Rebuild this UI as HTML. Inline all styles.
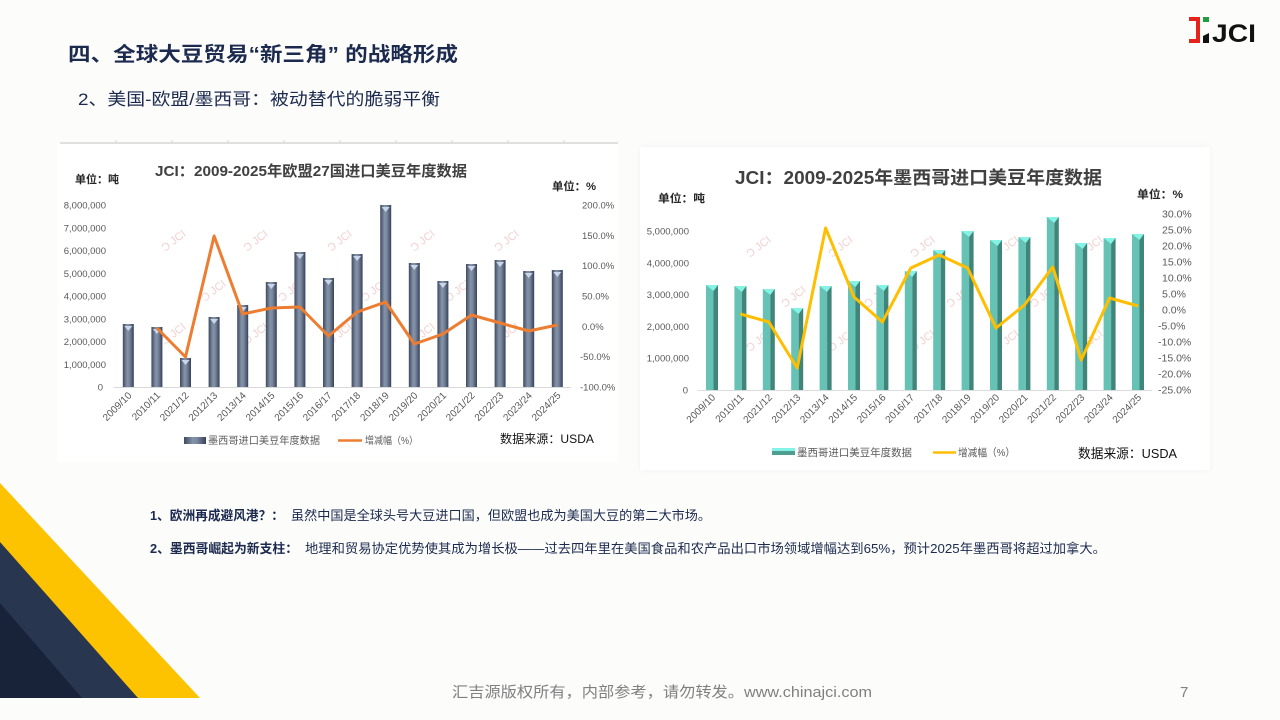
<!DOCTYPE html>
<html><head><meta charset="utf-8"><style>
html,body{margin:0;padding:0;background:#FCFCFB;}
svg{display:block;}
text{font-family:"Liberation Sans","Noto Sans CJK SC",sans-serif;}
</style></head><body>
<svg width="1280" height="720" viewBox="0 0 1280 720" xmlns="http://www.w3.org/2000/svg">
<defs>
<linearGradient id="lb" x1="0" y1="0" x2="1" y2="0">
<stop offset="0" stop-color="#3E4A5F"/><stop offset="0.4" stop-color="#8593A9"/><stop offset="0.6" stop-color="#7A889E"/><stop offset="1" stop-color="#36415A"/>
</linearGradient>
<filter id="sh" x="-5%" y="-5%" width="110%" height="110%"><feGaussianBlur stdDeviation="2"/></filter>
</defs>
<rect width="1280" height="720" fill="#FCFCFB"/>

<!-- logo -->
<path d="M1189 17h11v26h-11v-4h7v-18h-7z" fill="#E5231B"/>
<path d="M1203 17h6v5h-6z" fill="#1E9E3E"/>
<path d="M1203 36l6-3v10h-6z" fill="#111"/>
<text x="1212" y="42" font-size="25" font-weight="bold" fill="#111" textLength="44" lengthAdjust="spacingAndGlyphs">JCI</text>

<!-- titles -->
<text x="68" y="61" font-size="20" font-weight="bold" fill="#1B2A4E" textLength="390" lengthAdjust="spacingAndGlyphs">四、全球大豆贸易“新三角” 的战略形成</text>
<text x="78" y="105" font-size="17" fill="#1B2A4E" textLength="362" lengthAdjust="spacingAndGlyphs">2、美国-欧盟/墨西哥：被动替代的脆弱平衡</text>

<!-- LEFT CHART -->
<rect x="58" y="144" width="560" height="318" fill="#FFFFFF"/>
<line x1="60" y1="143" x2="618" y2="143" stroke="#D6D6D6" stroke-width="1.5"/>
<g stroke="#D6D6D6" stroke-width="1"><line x1="116" y1="140" x2="116" y2="143"/><line x1="172" y1="140" x2="172" y2="143"/><line x1="228" y1="140" x2="228" y2="143"/><line x1="284" y1="140" x2="284" y2="143"/><line x1="340" y1="140" x2="340" y2="143"/><line x1="396" y1="140" x2="396" y2="143"/><line x1="452" y1="140" x2="452" y2="143"/><line x1="508" y1="140" x2="508" y2="143"/><line x1="564" y1="140" x2="564" y2="143"/></g>
<text x="155" y="176" font-size="15" font-weight="bold" fill="#404040" textLength="312" lengthAdjust="spacingAndGlyphs">JCI：2009-2025年欧盟27国进口美豆年度数据</text>
<text x="75" y="183" font-size="11" font-weight="bold" fill="#262626" textLength="44" lengthAdjust="spacingAndGlyphs">单位：吨</text>
<text x="552" y="190" font-size="11" font-weight="bold" fill="#262626" textLength="44" lengthAdjust="spacingAndGlyphs">单位：%</text>

<!-- watermarks left -->
<g font-size="11" fill="#E9A8A8" opacity="0.55">
<text transform="translate(165,252) rotate(-38)">Ͻ JCI</text>
<text transform="translate(247,252) rotate(-38)">Ͻ JCI</text>
<text transform="translate(331,252) rotate(-38)">Ͻ JCI</text>
<text transform="translate(414,252) rotate(-38)">Ͻ JCI</text>
<text transform="translate(498,252) rotate(-38)">Ͻ JCI</text>
<text transform="translate(205,302) rotate(-38)">Ͻ JCI</text>
<text transform="translate(282,302) rotate(-38)">Ͻ JCI</text>
<text transform="translate(365,302) rotate(-38)">Ͻ JCI</text>
<text transform="translate(449,302) rotate(-38)">Ͻ JCI</text>
<text transform="translate(165,345) rotate(-38)">Ͻ JCI</text>
<text transform="translate(247,345) rotate(-38)">Ͻ JCI</text>
<text transform="translate(331,345) rotate(-38)">Ͻ JCI</text>
<text transform="translate(414,345) rotate(-38)">Ͻ JCI</text>
<text transform="translate(498,345) rotate(-38)">Ͻ JCI</text>
</g>

<g font-size="9.5" fill="#595959" text-anchor="end">
<text x="106" y="208.5">8,000,000</text><text x="106" y="231.3">7,000,000</text><text x="106" y="254">6,000,000</text><text x="106" y="276.8">5,000,000</text><text x="106" y="299.5">4,000,000</text><text x="106" y="322.3">3,000,000</text><text x="106" y="345">2,000,000</text><text x="106" y="367.8">1,000,000</text><text x="103" y="390.5">0</text>
</g>
<g font-size="9.5" fill="#595959">
<text x="582" y="208.5">200.0%</text><text x="582" y="238.8">150.0%</text><text x="582" y="269.2">100.0%</text><text x="582" y="299.5">50.0%</text><text x="582" y="329.8">0.0%</text><text x="580" y="360.2">-50.0%</text><text x="580" y="390.5">-100.0%</text>
</g>
<line x1="114" y1="387.5" x2="571" y2="387.5" stroke="#D9D9D9" stroke-width="1"/>

<g fill="url(#lb)">
<rect x="122.8" y="324" width="11" height="63"/><rect x="151.4" y="327" width="11" height="60"/><rect x="180" y="358" width="11" height="29"/><rect x="208.6" y="317" width="11" height="70"/><rect x="237.2" y="305" width="11" height="82"/><rect x="265.8" y="282" width="11" height="105"/><rect x="294.4" y="252" width="11" height="135"/><rect x="323" y="278" width="11" height="109"/><rect x="351.6" y="254" width="11" height="133"/><rect x="380.2" y="205" width="11" height="182"/><rect x="408.8" y="263" width="11" height="124"/><rect x="437.4" y="281" width="11" height="106"/><rect x="466" y="264" width="11" height="123"/><rect x="494.6" y="260" width="11" height="127"/><rect x="523.2" y="271" width="11" height="116"/><rect x="551.8" y="270" width="11" height="117"/>
</g>
<g fill="#C9D6E8">
<polygon points="124.3,326 132.3,326 128.3,331"/><polygon points="152.9,329 160.9,329 156.9,334"/><polygon points="181.5,360 189.5,360 185.5,365"/><polygon points="210.1,319 218.1,319 214.1,324"/><polygon points="238.7,307 246.7,307 242.7,312"/><polygon points="267.3,284 275.3,284 271.3,289"/><polygon points="295.9,254 303.9,254 299.9,259"/><polygon points="324.5,280 332.5,280 328.5,285"/><polygon points="353.1,256 361.1,256 357.1,261"/><polygon points="381.7,207 389.7,207 385.7,212"/><polygon points="410.3,265 418.3,265 414.3,270"/><polygon points="438.9,283 446.9,283 442.9,288"/><polygon points="467.5,266 475.5,266 471.5,271"/><polygon points="496.1,262 504.1,262 500.1,267"/><polygon points="524.7,273 532.7,273 528.7,278"/><polygon points="553.3,272 561.3,272 557.3,277"/>
</g>
<polyline fill="none" stroke="#ED7D31" stroke-width="3" stroke-linejoin="round" points="156.9,328 185.5,357 214.1,236 242.7,314 271.3,308 299.9,307 328.5,336 357.1,312 385.7,302 414.3,344 442.9,334 471.5,315 500.1,323 528.7,331 557.3,325"/>

<g font-size="10" fill="#595959" text-anchor="end">
<text transform="translate(132.3,396) rotate(-45)">2009/10</text><text transform="translate(160.9,396) rotate(-45)">2010/11</text><text transform="translate(189.5,396) rotate(-45)">2021/12</text><text transform="translate(218.1,396) rotate(-45)">2012/13</text><text transform="translate(246.7,396) rotate(-45)">2013/14</text><text transform="translate(275.3,396) rotate(-45)">2014/15</text><text transform="translate(303.9,396) rotate(-45)">2015/16</text><text transform="translate(332.5,396) rotate(-45)">2016/17</text><text transform="translate(361.1,396) rotate(-45)">2017/18</text><text transform="translate(389.7,396) rotate(-45)">2018/19</text><text transform="translate(418.3,396) rotate(-45)">2019/20</text><text transform="translate(446.9,396) rotate(-45)">2020/21</text><text transform="translate(475.5,396) rotate(-45)">2021/22</text><text transform="translate(504.1,396) rotate(-45)">2022/23</text><text transform="translate(532.7,396) rotate(-45)">2023/24</text><text transform="translate(561.3,396) rotate(-45)">2024/25</text>
</g>
<rect x="184" y="437" width="22" height="7" fill="url(#lb)"/>
<text x="208" y="444" font-size="10" fill="#595959" textLength="112" lengthAdjust="spacingAndGlyphs">墨西哥进口美豆年度数据</text>
<line x1="338" y1="440.5" x2="362" y2="440.5" stroke="#ED7D31" stroke-width="2.5"/>
<text x="365" y="444" font-size="10" fill="#595959" textLength="53" lengthAdjust="spacingAndGlyphs">增减幅（%）</text>
<text x="500" y="443" font-size="12" fill="#111" textLength="94" lengthAdjust="spacingAndGlyphs">数据来源：USDA</text>

<!-- RIGHT CHART -->
<rect x="640" y="147" width="570" height="323" fill="#E8E8E6" filter="url(#sh)" opacity="0.6"/>
<rect x="640" y="147" width="570" height="323" fill="#FFFFFF"/>
<text x="735" y="184" font-size="18" font-weight="bold" fill="#404040" textLength="367" lengthAdjust="spacingAndGlyphs">JCI：2009-2025年墨西哥进口美豆年度数据</text>
<text x="658" y="202" font-size="11" font-weight="bold" fill="#262626" textLength="47" lengthAdjust="spacingAndGlyphs">单位：吨</text>
<text x="1137" y="198" font-size="11" font-weight="bold" fill="#262626" textLength="46" lengthAdjust="spacingAndGlyphs">单位：%</text>

<g font-size="11" fill="#E9A8A8" opacity="0.55">
<text transform="translate(750,258) rotate(-38)">Ͻ JCI</text>
<text transform="translate(832,258) rotate(-38)">Ͻ JCI</text>
<text transform="translate(914,258) rotate(-38)">Ͻ JCI</text>
<text transform="translate(998,258) rotate(-38)">Ͻ JCI</text>
<text transform="translate(1082,258) rotate(-38)">Ͻ JCI</text>
<text transform="translate(785,308) rotate(-38)">Ͻ JCI</text>
<text transform="translate(868,308) rotate(-38)">Ͻ JCI</text>
<text transform="translate(950,308) rotate(-38)">Ͻ JCI</text>
<text transform="translate(1034,308) rotate(-38)">Ͻ JCI</text>
<text transform="translate(750,352) rotate(-38)">Ͻ JCI</text>
<text transform="translate(832,352) rotate(-38)">Ͻ JCI</text>
<text transform="translate(914,352) rotate(-38)">Ͻ JCI</text>
<text transform="translate(998,352) rotate(-38)">Ͻ JCI</text>
<text transform="translate(1082,352) rotate(-38)">Ͻ JCI</text>
</g>

<g font-size="9.5" fill="#595959" text-anchor="end">
<text x="689" y="234.5">5,000,000</text><text x="689" y="266.3">4,000,000</text><text x="689" y="298.1">3,000,000</text><text x="689" y="329.9">2,000,000</text><text x="689" y="361.7">1,000,000</text><text x="688" y="393.5">0</text>
</g>
<g font-size="10.5" fill="#595959">
<text x="1162" y="217.5">30.0%</text><text x="1162" y="233.5">25.0%</text><text x="1162" y="249.5">20.0%</text><text x="1162" y="265.5">15.0%</text><text x="1162" y="281.5">10.0%</text><text x="1162" y="297.5">5.0%</text><text x="1162" y="313.5">0.0%</text><text x="1158" y="329.5">-5.0%</text><text x="1158" y="345.5">-10.0%</text><text x="1158" y="361.5">-15.0%</text><text x="1158" y="377.5">-20.0%</text><text x="1158" y="393.5">-25.0%</text>
</g>
<line x1="698" y1="390.5" x2="1152" y2="390.5" stroke="#DCDCDC" stroke-width="1"/>

<g fill="#66C2B4">
<rect x="706" y="285" width="7.5" height="105"/><rect x="734.4" y="286" width="7.5" height="104"/><rect x="762.8" y="289" width="7.5" height="101"/><rect x="791.2" y="308" width="7.5" height="82"/><rect x="819.6" y="286" width="7.5" height="104"/><rect x="848" y="281" width="7.5" height="109"/><rect x="876.4" y="285" width="7.5" height="105"/><rect x="904.8" y="271" width="7.5" height="119"/><rect x="933.2" y="250" width="7.5" height="140"/><rect x="961.6" y="231" width="7.5" height="159"/><rect x="990" y="240" width="7.5" height="150"/><rect x="1018.4" y="237" width="7.5" height="153"/><rect x="1046.8" y="217" width="7.5" height="173"/><rect x="1075.2" y="243" width="7.5" height="147"/><rect x="1103.6" y="238" width="7.5" height="152"/><rect x="1132" y="234" width="7.5" height="156"/>
</g>
<g fill="#3F8579">
<rect x="713.5" y="285" width="4.5" height="105"/><rect x="741.9" y="286" width="4.5" height="104"/><rect x="770.3" y="289" width="4.5" height="101"/><rect x="798.7" y="308" width="4.5" height="82"/><rect x="827.1" y="286" width="4.5" height="104"/><rect x="855.5" y="281" width="4.5" height="109"/><rect x="883.9" y="285" width="4.5" height="105"/><rect x="912.3" y="271" width="4.5" height="119"/><rect x="940.7" y="250" width="4.5" height="140"/><rect x="969.1" y="231" width="4.5" height="159"/><rect x="997.5" y="240" width="4.5" height="150"/><rect x="1025.9" y="237" width="4.5" height="153"/><rect x="1054.3" y="217" width="4.5" height="173"/><rect x="1082.7" y="243" width="4.5" height="147"/><rect x="1111.1" y="238" width="4.5" height="152"/><rect x="1139.5" y="234" width="4.5" height="156"/>
</g>
<g fill="#84F2E4">
<polygon points="706,285 718,285 713.5,291"/><polygon points="734.4,286 746.4,286 741.9,292"/><polygon points="762.8,289 774.8,289 770.3,295"/><polygon points="791.2,308 803.2,308 798.7,314"/><polygon points="819.6,286 831.6,286 827.1,292"/><polygon points="848,281 860,281 855.5,287"/><polygon points="876.4,285 888.4,285 883.9,291"/><polygon points="904.8,271 916.8,271 912.3,277"/><polygon points="933.2,250 945.2,250 940.7,256"/><polygon points="961.6,231 973.6,231 969.1,237"/><polygon points="990,240 1002,240 997.5,246"/><polygon points="1018.4,237 1030.4,237 1025.9,243"/><polygon points="1046.8,217 1058.8,217 1054.3,223"/><polygon points="1075.2,243 1087.2,243 1082.7,249"/><polygon points="1103.6,238 1115.6,238 1111.1,244"/><polygon points="1132,234 1144,234 1139.5,240"/>
</g>
<polyline fill="none" stroke="#FFBE00" stroke-width="3" stroke-linejoin="round" points="740.4,314 768.8,322 797.2,368 825.6,228 854,297 882.4,322 910.8,268 939.2,255 967.6,268 996,328 1024.4,305 1052.8,267 1081.2,360 1109.6,298 1138,306"/>

<g font-size="10" fill="#595959" text-anchor="end">
<text transform="translate(716,398) rotate(-45)">2009/10</text><text transform="translate(744.4,398) rotate(-45)">2010/11</text><text transform="translate(772.8,398) rotate(-45)">2021/12</text><text transform="translate(801.2,398) rotate(-45)">2012/13</text><text transform="translate(829.6,398) rotate(-45)">2013/14</text><text transform="translate(858,398) rotate(-45)">2014/15</text><text transform="translate(886.4,398) rotate(-45)">2015/16</text><text transform="translate(914.8,398) rotate(-45)">2016/17</text><text transform="translate(943.2,398) rotate(-45)">2017/18</text><text transform="translate(971.6,398) rotate(-45)">2018/19</text><text transform="translate(1000,398) rotate(-45)">2019/20</text><text transform="translate(1028.4,398) rotate(-45)">2020/21</text><text transform="translate(1056.8,398) rotate(-45)">2021/22</text><text transform="translate(1085.2,398) rotate(-45)">2022/23</text><text transform="translate(1113.6,398) rotate(-45)">2023/24</text><text transform="translate(1142,398) rotate(-45)">2024/25</text>
</g>
<rect x="772" y="448" width="23" height="7" fill="#4E9E92"/>
<rect x="772" y="448" width="23" height="3" fill="#84F2E4"/>
<text x="797" y="456" font-size="10.5" fill="#595959" textLength="115" lengthAdjust="spacingAndGlyphs">墨西哥进口美豆年度数据</text>
<line x1="933" y1="452.5" x2="956" y2="452.5" stroke="#FFBE00" stroke-width="2.5"/>
<text x="958" y="456" font-size="10.5" fill="#595959" textLength="57" lengthAdjust="spacingAndGlyphs">增减幅（%）</text>
<text x="1078" y="458" font-size="13" fill="#111" textLength="99" lengthAdjust="spacingAndGlyphs">数据来源：USDA</text>

<!-- bottom text -->
<text x="150" y="520" font-size="13" font-weight="bold" fill="#1B2A4E" textLength="134" lengthAdjust="spacingAndGlyphs">1、欧洲再成避风港？：</text>
<text x="291" y="520" font-size="13" fill="#1B2A4E" textLength="420" lengthAdjust="spacingAndGlyphs">虽然中国是全球头号大豆进口国，但欧盟也成为美国大豆的第二大市场。</text>
<text x="150" y="553" font-size="13" font-weight="bold" fill="#1B2A4E" textLength="148" lengthAdjust="spacingAndGlyphs">2、墨西哥崛起为新支柱：</text>
<text x="305" y="553" font-size="13" fill="#1B2A4E" textLength="801" lengthAdjust="spacingAndGlyphs">地理和贸易协定优势使其成为增长极——过去四年里在美国食品和农产品出口市场领域增幅达到65%，预计2025年墨西哥将超过加拿大。</text>

<!-- corner triangles -->
<polygon points="0,483 200,698 0,698" fill="#FDC300"/>
<polygon points="0,542 138,698 0,698" fill="#29364F"/>
<polygon points="0,603 82,698 0,698" fill="#18233A"/>

<!-- footer -->
<text x="452" y="697" font-size="15" fill="#808080" textLength="420" lengthAdjust="spacingAndGlyphs">汇吉源版权所有，内部参考，请勿转发。www.chinajci.com</text>
<text x="1180" y="697" font-size="15" fill="#808080">7</text>
</svg>
</body></html>
